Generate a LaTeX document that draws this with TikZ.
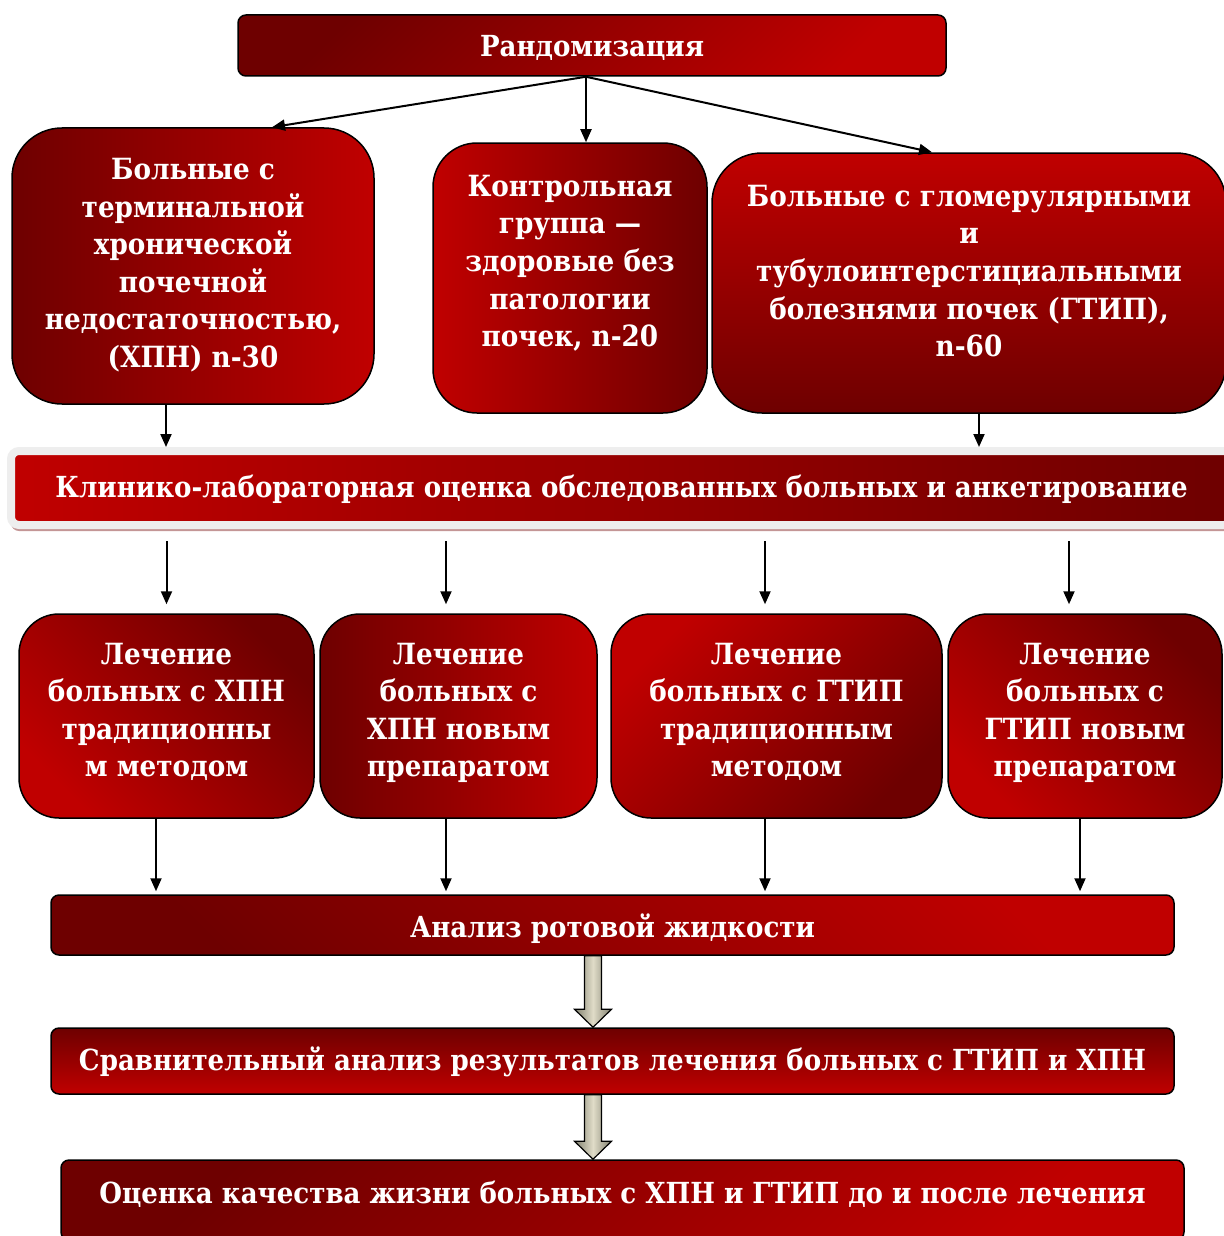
\documentclass[tikz,border=0pt]{standalone}
\usepackage{fontspec}
\setmainfont{DejaVu Serif}[FakeStretch=0.9]
\usetikzlibrary{arrows.meta,calc,shadows}
\definecolor{dk}{RGB}{110,0,0}
\definecolor{rd}{RGB}{192,0,0}
\definecolor{framegray}{RGB}{238,238,238}
\definecolor{shadowpink}{RGB}{196,150,150}
\definecolor{arrdk}{RGB}{128,128,110}
\definecolor{arrlt}{RGB}{224,220,200}
\newcommand{\boxfont}{\fontsize{14.6}{18.8}\selectfont\bfseries}
\newcommand{\barfont}{\fontsize{14.5}{18}\selectfont\bfseries}
\newcommand{\boxlines}[2][0pt]{\raisebox{#1}[\height][\depth]{\begin{tabular}{@{}c@{}}#2\end{tabular}}}
\begin{document}
\begin{tikzpicture}[x=0.5pt,y=-0.5pt,
	box/.style={draw=black,line width=0.75pt,text=white,font=\boxfont,inner sep=0pt},
	bar/.style={box,font=\barfont,rounded corners=4pt},
	arr/.style={-{Triangle[length=6.5pt,width=5.5pt]},line width=1pt},
	blockarr/.style={draw=black,line width=0.6pt,left color=arrdk,right color=arrdk,middle color=arrlt}]
	\useasboundingbox (0,0) rectangle (1224,1236);
	
	% top
	\node[bar,minimum width=354pt,minimum height=30.5pt,top color=dk,bottom color=rd,shading angle=45] at (592,45.5) (rand) {\boxlines[-2pt]{Рандомизация}};
	
	% groups
	\node[box,rounded corners=25pt,minimum width=181pt,minimum height=138pt,left color=dk,right color=rd] at (193,266) (chpn) {\boxlines{Больные с\\терминальной\\хронической\\почечной\\недостаточностью,\\(ХПН) n-30}};
	\node[box,rounded corners=22pt,minimum width=137pt,minimum height=135pt,left color=rd,right color=dk] at (570,278) (ctrl) {\boxlines[7pt]{Контрольная\\группа —\\здоровые без\\патологии\\почек, n-20}};
	\node[box,rounded corners=25pt,minimum width=257pt,minimum height=130pt,top color=rd,bottom color=dk] at (969,283) (gtip) {\boxlines[4.5pt]{Больные с гломерулярными\\и\\тубулоинтерстициальными\\болезнями почек (ГТИП),\\n-60}};
	
	\node[bar,draw=framegray,line width=4pt,minimum width=610.5pt,minimum height=37pt,left color=rd,right color=dk,
		drop shadow={shadow xshift=0pt,shadow yshift=-3pt,fill=shadowpink,opacity=1}] at (621.5,488) (klin) {\boxlines[-1pt]{Клинико-лабораторная оценка обследованных больных и анкетирование}};
	
	% treatment
	\node[box,rounded corners=20pt,minimum width=147.5pt,minimum height=102pt,top color=dk,bottom color=rd,shading angle=-45] at (166.5,716) (lA) {\boxlines[1.5pt]{Лечение\\больных с ХПН\\традиционны\\м методом}};
	\node[box,rounded corners=20pt,minimum width=138.5pt,minimum height=102pt,left color=dk,right color=rd] at (458.5,716) (lB) {\boxlines[1.5pt]{Лечение\\больных с\\ХПН новым\\препаратом}};
	\node[box,rounded corners=20pt,minimum width=165.5pt,minimum height=102pt,top color=rd,bottom color=dk,shading angle=45] at (776.5,716) (lC) {\boxlines[1.5pt]{Лечение\\больных с ГТИП\\традиционным\\методом}};
	\node[box,rounded corners=20pt,minimum width=137pt,minimum height=102pt,top color=dk,bottom color=rd,shading angle=-45] at (1085,716) (lD) {\boxlines[1.5pt]{Лечение\\больных с\\ГТИП новым\\препаратом}};
	
	% bottom
	\node[bar,minimum width=561.5pt,minimum height=30pt,top color=rd,bottom color=dk,shading angle=-45] at (612.5,925) (anal) {\boxlines[-2.5pt]{Анализ ротовой жидкости}};
	\node[bar,minimum width=561.5pt,minimum height=33pt,top color=dk,bottom color=rd] at (612.5,1061) (srav) {\boxlines[-1pt]{Сравнительный анализ результатов лечения больных с ГТИП и ХПН}};
	\node[bar,minimum width=561.5pt,minimum height=40pt,top color=dk,bottom color=rd,shading angle=45] at (622.5,1200) (ocen) {\boxlines[2pt]{Оценка качества жизни больных с ХПН и ГТИП до и после лечения}};
	
	% connectors
	\draw[arr] ([xshift=-3pt]rand.south) -- ([xshift=39.5pt]chpn.north);
	\draw[arr] ([xshift=-3pt]rand.south) -- ([xshift=8pt]ctrl.north);
	\draw[arr] ([xshift=-3pt]rand.south) -- ([xshift=-18.5pt]gtip.north);
	\draw[arr] ([xshift=-13.5pt]chpn.south) -- ([xshift=-13.5pt]chpn.south |- klin.north);
	\draw[arr] ([xshift=5pt]gtip.south) -- ([xshift=5pt]gtip.south |- klin.north);
	
	\foreach \b/\s in {lA/0,lB/-6.25,lC/-5.75,lD/-8}{
		\draw[arr,shorten <=6pt,shorten >=4.5pt] ([xshift=\s pt]\b.north |- klin.south) -- ([xshift=\s pt]\b.north);
	}
	\foreach \b/\s in {lA/-5.25,lB/-6.25,lC/-5.75,lD/-2.5}{
		\draw[arr,shorten >=1.5pt] ([xshift=\s pt]\b.south) -- ([xshift=\s pt]\b.south |- anal.north);
	}
	
	\path[blockarr] let \p1=([xshift=-9.75pt]anal.south), \p2=(srav.north) in
		(\x1-4.25pt,\y1) -- (\x1-4.25pt,\y2+9pt) -- (\x1-9.25pt,\y2+9pt) -- (\x1,\y2)
		-- (\x1+9.25pt,\y2+9pt) -- (\x1+4.25pt,\y2+9pt) -- (\x1+4.25pt,\y1) -- cycle;
	\path[blockarr] let \p1=([xshift=-9.75pt]srav.south), \p2=(ocen.north) in
		(\x1-4.25pt,\y1) -- (\x1-4.25pt,\y2+9pt) -- (\x1-9.25pt,\y2+9pt) -- (\x1,\y2)
		-- (\x1+9.25pt,\y2+9pt) -- (\x1+4.25pt,\y2+9pt) -- (\x1+4.25pt,\y1) -- cycle;
	
\end{tikzpicture}
\end{document}
